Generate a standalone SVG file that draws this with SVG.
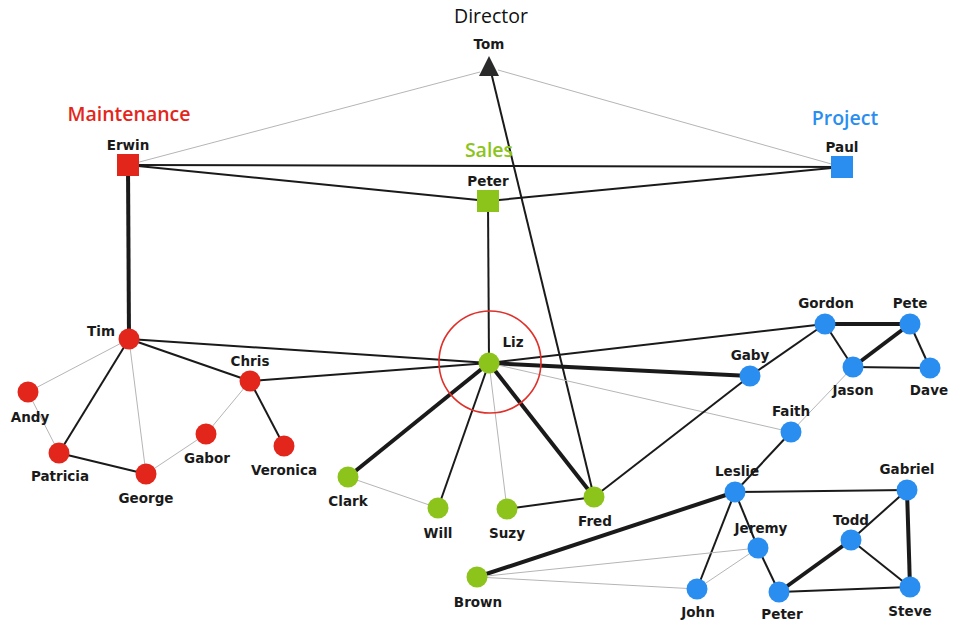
<svg xmlns="http://www.w3.org/2000/svg" width="953" height="625" viewBox="0 0 953 625">
<style>
.lbl{font-family:"DejaVu Sans","Liberation Sans",sans-serif;font-weight:bold;font-size:13.5px;fill:#1a1a1a;text-anchor:middle}
.grp{font-family:"Open Sans","Noto Sans",sans-serif;font-weight:600;font-size:19.5px;text-anchor:middle}
.r{fill:#e3261b}.g{fill:#8cc41c}.b{fill:#2a8ef0}
.thin{stroke:#b5b5b5;stroke-width:1;fill:none}
.med{stroke:#1a1a1a;stroke-width:2;fill:none}
.thick{stroke:#1a1a1a;stroke-width:4;fill:none}
</style>
<rect width="953" height="625" fill="#ffffff"/>
<g id="connectors">
<line class="thin" x1="128" y1="165" x2="480" y2="72"/>
<line class="thin" x1="498" y1="70" x2="842" y2="167"/>
<line class="med" x1="128" y1="165" x2="842" y2="167"/>
<line class="med" x1="128" y1="165" x2="488" y2="201"/>
<line class="med" x1="488" y1="201" x2="842" y2="167"/>
<line class="thick" x1="128" y1="165" x2="129" y2="339"/>
<line class="med" x1="488" y1="201" x2="489" y2="363"/>
<line class="med" x1="594" y1="497" x2="491" y2="72"/>
<line class="med" x1="129" y1="339" x2="489" y2="363"/>
<line class="med" x1="129" y1="339" x2="250" y2="381"/>
<line class="med" x1="250" y1="381" x2="489" y2="363"/>
<line class="thin" x1="129" y1="339" x2="28" y2="392"/>
<line class="med" x1="129" y1="339" x2="59" y2="453"/>
<line class="thin" x1="129" y1="339" x2="146" y2="474"/>
<line class="thin" x1="28" y1="392" x2="59" y2="453"/>
<line class="med" x1="59" y1="453" x2="146" y2="474"/>
<line class="thin" x1="146" y1="474" x2="206" y2="434"/>
<line class="thin" x1="206" y1="434" x2="250" y2="381"/>
<line class="med" x1="250" y1="381" x2="284" y2="446"/>
<line class="thick" x1="489" y1="363" x2="348" y2="477"/>
<line class="med" x1="489" y1="363" x2="438" y2="508"/>
<line class="thin" x1="489" y1="363" x2="507" y2="509"/>
<line class="thick" x1="489" y1="363" x2="594" y2="497"/>
<line class="med" x1="489" y1="363" x2="825" y2="324"/>
<line class="thick" x1="489" y1="363" x2="750" y2="376"/>
<line class="thin" x1="489" y1="363" x2="791" y2="432"/>
<line class="thin" x1="348" y1="477" x2="438" y2="508"/>
<line class="med" x1="507" y1="509" x2="594" y2="497"/>
<line class="med" x1="594" y1="497" x2="750" y2="376"/>
<line class="med" x1="750" y1="376" x2="825" y2="324"/>
<line class="thick" x1="825" y1="324" x2="910" y2="324"/>
<line class="med" x1="825" y1="324" x2="853" y2="367"/>
<line class="thick" x1="910" y1="324" x2="853" y2="367"/>
<line class="med" x1="910" y1="324" x2="930" y2="368"/>
<line class="med" x1="853" y1="367" x2="930" y2="368"/>
<line class="thin" x1="853" y1="367" x2="791" y2="432"/>
<line class="med" x1="791" y1="432" x2="735" y2="492"/>
<line class="thick" x1="735" y1="492" x2="477" y2="577"/>
<line class="med" x1="735" y1="492" x2="907" y2="490"/>
<line class="med" x1="735" y1="492" x2="697" y2="589"/>
<line class="med" x1="735" y1="492" x2="758" y2="548"/>
<line class="med" x1="758" y1="548" x2="779" y2="592"/>
<line class="thick" x1="779" y1="592" x2="851" y2="540"/>
<line class="med" x1="779" y1="592" x2="910" y2="587"/>
<line class="med" x1="851" y1="540" x2="907" y2="490"/>
<line class="med" x1="851" y1="540" x2="910" y2="587"/>
<line class="thick" x1="907" y1="490" x2="910" y2="587"/>
<line class="thin" x1="477" y1="577" x2="758" y2="548"/>
<line class="thin" x1="477" y1="577" x2="697" y2="589"/>
<line class="thin" x1="697" y1="589" x2="758" y2="548"/>
</g>
<circle cx="490" cy="362" r="51" fill="none" stroke="#e0302a" stroke-width="1.6"/>
<g id="tom"><polygon points="489,56 479,76 499,76" fill="#2a2a2a"/><text class="grp" x="491" y="23" style="fill:#111;font-weight:normal">Director</text><text class="lbl" x="489" y="49">Tom</text></g>
<g id="erwin"><rect x="117" y="154" width="22" height="22" class="r"/><text class="grp r" x="129" y="121">Maintenance</text><text class="lbl" x="128" y="150">Erwin</text></g>
<g id="peter"><rect x="477" y="190" width="22" height="22" class="g"/><text class="grp g" x="489" y="157">Sales</text><text class="lbl" x="488" y="186">Peter</text></g>
<g id="paul"><rect x="831" y="156" width="22" height="22" class="b"/><text class="grp b" x="845" y="125">Project</text><text class="lbl" x="842" y="152">Paul</text></g>
<g id="tim"><circle cx="129" cy="339" r="10.5" class="r"/><text class="lbl" x="101" y="336">Tim</text></g>
<g id="chris"><circle cx="250" cy="381" r="10.5" class="r"/><text class="lbl" x="250" y="366">Chris</text></g>
<g id="andy"><circle cx="28" cy="392" r="10.5" class="r"/><text class="lbl" x="30" y="422">Andy</text></g>
<g id="patricia"><circle cx="59" cy="453" r="10.5" class="r"/><text class="lbl" x="60" y="481">Patricia</text></g>
<g id="george"><circle cx="146" cy="474" r="10.5" class="r"/><text class="lbl" x="146" y="503">George</text></g>
<g id="gabor"><circle cx="206" cy="434" r="10.5" class="r"/><text class="lbl" x="207" y="463">Gabor</text></g>
<g id="veronica"><circle cx="284" cy="446" r="10.5" class="r"/><text class="lbl" x="284" y="475">Veronica</text></g>
<g id="liz"><circle cx="489" cy="363" r="10.5" class="g"/><text class="lbl" x="513" y="347">Liz</text></g>
<g id="clark"><circle cx="348" cy="477" r="10.5" class="g"/><text class="lbl" x="348" y="506">Clark</text></g>
<g id="will"><circle cx="438" cy="508" r="10.5" class="g"/><text class="lbl" x="438" y="538">Will</text></g>
<g id="suzy"><circle cx="507" cy="509" r="10.5" class="g"/><text class="lbl" x="507" y="538">Suzy</text></g>
<g id="fred"><circle cx="594" cy="497" r="10.5" class="g"/><text class="lbl" x="595" y="526">Fred</text></g>
<g id="brown"><circle cx="477" cy="577" r="10.5" class="g"/><text class="lbl" x="478" y="607">Brown</text></g>
<g id="gordon"><circle cx="825" cy="324" r="10.5" class="b"/><text class="lbl" x="826" y="308">Gordon</text></g>
<g id="pete"><circle cx="910" cy="324" r="10.5" class="b"/><text class="lbl" x="910" y="308">Pete</text></g>
<g id="jason"><circle cx="853" cy="367" r="10.5" class="b"/><text class="lbl" x="853" y="395">Jason</text></g>
<g id="dave"><circle cx="930" cy="368" r="10.5" class="b"/><text class="lbl" x="929" y="395">Dave</text></g>
<g id="gaby"><circle cx="750" cy="376" r="10.5" class="b"/><text class="lbl" x="750" y="360">Gaby</text></g>
<g id="faith"><circle cx="791" cy="432" r="10.5" class="b"/><text class="lbl" x="791" y="416">Faith</text></g>
<g id="leslie"><circle cx="735" cy="492" r="10.5" class="b"/><text class="lbl" x="737" y="476">Leslie</text></g>
<g id="gabriel"><circle cx="907" cy="490" r="10.5" class="b"/><text class="lbl" x="907" y="474">Gabriel</text></g>
<g id="todd"><circle cx="851" cy="540" r="10.5" class="b"/><text class="lbl" x="851" y="525">Todd</text></g>
<g id="jeremy"><circle cx="758" cy="548" r="10.5" class="b"/><text class="lbl" x="761" y="533">Jeremy</text></g>
<g id="john"><circle cx="697" cy="589" r="10.5" class="b"/><text class="lbl" x="698" y="617">John</text></g>
<g id="peter2"><circle cx="779" cy="592" r="10.5" class="b"/><text class="lbl" x="782" y="619">Peter</text></g>
<g id="steve"><circle cx="910" cy="587" r="10.5" class="b"/><text class="lbl" x="910" y="616">Steve</text></g>
</svg>
